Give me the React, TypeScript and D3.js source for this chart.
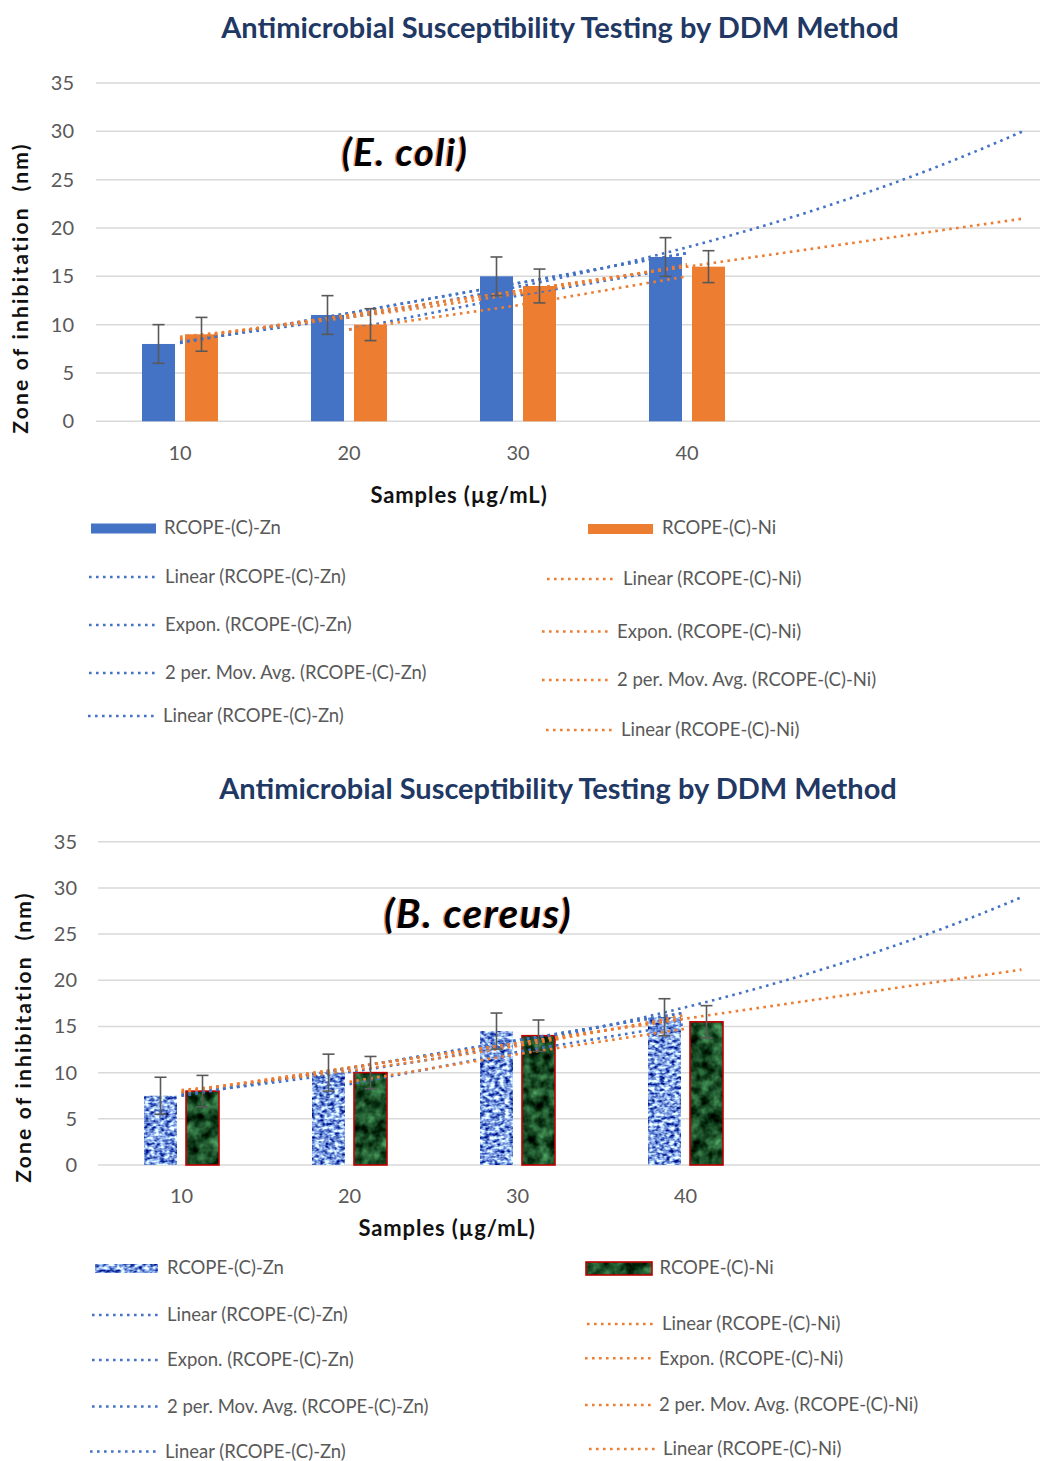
import React from "react";
import * as d3 from "d3";

// ---------- DATA ----------
const categories = ["10", "20", "30", "40"];
const yTicks = [0, 5, 10, 15, 20, 25, 30, 35];

const ecoliZn = [8, 11, 15, 17];
const ecoliZnErr = [2, 2, 2, 2];
const ecoliNi = [9, 10, 14, 16];
const ecoliNiErr = [1.75, 1.65, 1.75, 1.65];

const cereusZn = [7.5, 10, 14.5, 16];
const cereusZnErr = [2, 2, 1.95, 2];
const cereusNi = [8, 10, 14, 15.5];
const cereusNiErr = [1.7, 1.75, 1.7, 1.75];

const titleText = "Antimicrobial Susceptibility Testing by DDM Method";
const yTitleText = "Zone of inhibitation  (nm)";
const xTitleText = "Samples (µg/mL)";
const seriesZn = "RCOPE-(C)-Zn";
const seriesNi = "RCOPE-(C)-Ni";
const znLegend = ["Linear (RCOPE-(C)-Zn)", "Expon. (RCOPE-(C)-Zn)", "2 per. Mov. Avg. (RCOPE-(C)-Zn)", "Linear (RCOPE-(C)-Zn)"];
const niLegend = ["Linear (RCOPE-(C)-Ni)", "Expon. (RCOPE-(C)-Ni)", "2 per. Mov. Avg. (RCOPE-(C)-Ni)", "Linear (RCOPE-(C)-Ni)"];

const BLUE = "#4472c4";
const ORANGE = "#ed7d31";
const GRID = "#d9d9d9";
const LABEL = "#595959";
const NAVY = "#1f3864";
const FONT = "Lato, 'Open Sans', sans-serif";

// ---------- trendline helpers (computed from data, like Excel) ----------
function linFit(ys: number[]) {
  const xs = ys.map((_, i) => i + 1);
  const mx = d3.mean(xs)!, my = d3.mean(ys)!;
  const sxy = d3.sum(xs.map((x, i) => (x - mx) * (ys[i] - my)));
  const sxx = d3.sum(xs.map((x) => (x - mx) ** 2));
  const b = sxy / sxx;
  return { a: my - b * mx, b };
}
function linear(ys: number[], toX: number): [number, number][] {
  const { a, b } = linFit(ys);
  return [[1, a + b], [toX, a + b * toX]];
}
function expon(ys: number[], toX: number): [number, number][] {
  const { a, b } = linFit(ys.map(Math.log));
  return d3.range(1, toX + 0.0001, 0.05).map((x) => [x, Math.exp(a + b * x)] as [number, number]);
}
function movAvg(ys: number[]): [number, number][] {
  return ys.slice(1).map((v, i) => [i + 2, (v + ys[i]) / 2] as [number, number]);
}

type PanelCfg = {
  title: { y: number; x: number };
  gridTop: number; gridBottom: number; gridLeft: number;
  c1: number; spacing: number;
  barW: number; gap: number;
  tickX: number; tickBase: number;
  xTitle: { x: number; y: number };
  yTitle: { x: number; y: number };
  species: { text: string; x: number; y: number; size: number };
  zn: number[]; znErr: number[]; ni: number[]; niErr: number[];
  textured: boolean;
  legZn: { bar: [number, number, number, number]; text: [number, number]; rows: [number, number, number, number][] };
  legNi: { bar: [number, number, number, number]; text: [number, number]; rows: [number, number, number, number][] };
};

const dotted = { strokeWidth: 2.6, strokeDasharray: "2.6 4.4" };

function Panel({ cfg, id }: { cfg: PanelCfg; id: string }) {
  const y = d3.scaleLinear().domain([0, 35]).range([cfg.gridBottom, cfg.gridTop]);
  const x = d3.scaleLinear().domain([1, 2]).range([cfg.c1, cfg.c1 + cfg.spacing]);
  const line = d3.line<[number, number]>().x((d) => x(d[0])).y((d) => y(d[1]));

  const znFill = BLUE;
  const niFill = cfg.textured ? "#1f4d2a" : ORANGE;

  const trendZn: [number, number][][] = [
    linear(cfg.zn, 4),
    expon(cfg.zn, 6),
    movAvg(cfg.zn),
    linear(cfg.zn, 4),
  ];
  const trendNi: [number, number][][] = [
    linear(cfg.ni, 4),
    expon(cfg.ni, 4),
    movAvg(cfg.ni),
    linear(cfg.ni, 6),
  ];

  const bar = (v: number, i: number, k: number) => {
    const cx = x(i + 1);
    const left = k === 0 ? cx - cfg.gap / 2 - cfg.barW : cx + cfg.gap / 2;
    return { x: left, w: cfg.barW, y: y(v), h: y(0) - y(v), cx: left + cfg.barW / 2 };
  };

  const errBar = (v: number, e: number, cx: number, key: string) => (
    <g key={key} stroke="#595959" strokeWidth={1.6}>
      <line x1={cx} x2={cx} y1={y(v + e)} y2={y(v - e)} />
      <line x1={cx - 6} x2={cx + 6} y1={y(v + e)} y2={y(v + e)} />
      <line x1={cx - 6} x2={cx + 6} y1={y(v - e)} y2={y(v - e)} />
    </g>
  );

  return (
    <g>
      <text x={cfg.title.x} y={cfg.title.y} textAnchor="middle" fontFamily={FONT} fontWeight={700} fontSize={29} fill={NAVY}>
        {titleText}
      </text>
      {yTicks.map((t) => (
        <g key={t}>
          <line x1={cfg.gridLeft} x2={1040} y1={y(t)} y2={y(t)} stroke={GRID} strokeWidth={1.5} />
          <text x={cfg.tickX} y={y(t)} dy="0.35em" textAnchor="end" fontFamily={FONT} fontSize={20} fill={LABEL}>
            {t}
          </text>
        </g>
      ))}
      {categories.map((c, i) => (
        <text key={c} x={x(i + 1)} y={cfg.tickBase} textAnchor="middle" fontFamily={FONT} fontSize={20} fill={LABEL}>
          {c}
        </text>
      ))}
      <text x={cfg.xTitle.x} y={cfg.xTitle.y} textAnchor="middle" fontFamily={FONT} fontWeight={700} fontSize={22} letterSpacing={0.9} fill="#111">
        {xTitleText}
      </text>
      <text transform={`translate(${cfg.yTitle.x},${cfg.yTitle.y}) rotate(-90)`} textAnchor="middle" dy="0.35em" fontFamily={FONT} fontWeight={700} fontSize={21} letterSpacing={2.2} fill="#111" style={{ whiteSpace: "pre" }}>
        {yTitleText}
      </text>
      <text x={cfg.species.x - 1.5} y={cfg.species.y} textAnchor="middle" fontFamily={FONT} fontWeight={700} fontStyle="italic" fontSize={cfg.species.size} letterSpacing={1.5} fill={ORANGE} opacity={0.7}>
        {cfg.species.text}
      </text>
      <text x={cfg.species.x} y={cfg.species.y} textAnchor="middle" fontFamily={FONT} fontWeight={700} fontStyle="italic" fontSize={cfg.species.size} letterSpacing={1.5} fill="#000">
        {cfg.species.text}
      </text>

      {/* bars */}
      {cfg.zn.map((v, i) => {
        const b = bar(v, i, 0);
        return <rect key={"z" + i} x={b.x} y={b.y} width={b.w} height={b.h} fill={znFill} filter={cfg.textured ? `url(#znTex${id})` : undefined} />;
      })}
      {cfg.ni.map((v, i) => {
        const b = bar(v, i, 1);
        return (
          <g key={"n" + i}>
            <rect x={b.x} y={b.y} width={b.w} height={b.h} fill={niFill} filter={cfg.textured ? `url(#niTex${id})` : undefined} />
            {cfg.textured && <rect x={b.x} y={b.y} width={b.w} height={b.h} fill="none" stroke="#c00000" strokeWidth={1.6} />}
          </g>
        );
      })}

      {/* trendlines */}
      {trendZn.map((pts, k) => (
        <path key={"tz" + k} d={line(pts)!} fill="none" stroke={BLUE} {...dotted} />
      ))}
      {trendNi.map((pts, k) => (
        <path key={"tn" + k} d={line(pts)!} fill="none" stroke={ORANGE} {...dotted} />
      ))}

      {/* error bars */}
      {cfg.zn.map((v, i) => errBar(v, cfg.znErr[i], bar(v, i, 0).cx, "ez" + i))}
      {cfg.ni.map((v, i) => errBar(v, cfg.niErr[i], bar(v, i, 1).cx, "en" + i))}

      {/* legend */}
      {[{ leg: cfg.legZn, name: seriesZn, labels: znLegend, col: BLUE, fill: znFill, tex: `url(#znTex${id})`, stroke: "none" },
        { leg: cfg.legNi, name: seriesNi, labels: niLegend, col: ORANGE, fill: niFill, tex: `url(#niTex${id})`, stroke: cfg.textured ? "#c00000" : "none" }].map((s, si) => (
        <g key={"leg" + si}>
          <rect x={s.leg.bar[0]} y={s.leg.bar[1]} width={s.leg.bar[2]} height={s.leg.bar[3]} fill={s.fill} filter={cfg.textured ? s.tex : undefined} />
          {s.stroke !== "none" && <rect x={s.leg.bar[0]} y={s.leg.bar[1]} width={s.leg.bar[2]} height={s.leg.bar[3]} fill="none" stroke={s.stroke} strokeWidth={1.6} />}
          <text x={s.leg.text[0]} y={s.leg.text[1]} dy="0.35em" fontFamily={FONT} fontSize={18.5} fill={LABEL}>{s.name}</text>
          {s.leg.rows.map((r, k) => (
            <g key={k}>
              <line x1={r[0]} x2={r[1]} y1={r[2]} y2={r[2]} stroke={s.col} {...dotted} />
              <text x={r[3]} y={r[2]} dy="0.35em" fontFamily={FONT} fontSize={18.5} fill={LABEL}>{s.labels[k]}</text>
            </g>
          ))}
        </g>
      ))}
    </g>
  );
}

const topCfg: PanelCfg = {
  title: { x: 560, y: 38 },
  gridTop: 83, gridBottom: 421.3, gridLeft: 96,
  c1: 180, spacing: 169,
  barW: 33, gap: 10,
  tickX: 74, tickBase: 460,
  xTitle: { x: 459, y: 503 },
  yTitle: { x: 21, y: 288 },
  species: { text: "(E. coli)", x: 405, y: 166, size: 38 },
  zn: ecoliZn, znErr: ecoliZnErr, ni: ecoliNi, niErr: ecoliNiErr,
  textured: false,
  legZn: { bar: [91, 523.5, 65, 10], text: [164, 528], rows: [[89, 156, 577, 165], [89, 156, 625, 165], [89, 156, 673, 165], [88, 154, 716, 163]] },
  legNi: { bar: [588, 524, 65, 10], text: [662, 528], rows: [[547, 614, 579, 623], [542, 608, 631.5, 617], [542, 608, 680, 617], [546, 612, 730, 621]] },
};

const botCfg: PanelCfg = {
  title: { x: 558, y: 799 },
  gridTop: 841.7, gridBottom: 1165, gridLeft: 98,
  c1: 181.5, spacing: 168,
  barW: 33, gap: 9,
  tickX: 77, tickBase: 1203,
  xTitle: { x: 447, y: 1236 },
  yTitle: { x: 24, y: 1037 },
  species: { text: "(B. cereus)", x: 478, y: 928, size: 40 },
  zn: cereusZn, znErr: cereusZnErr, ni: cereusNi, niErr: cereusNiErr,
  textured: true,
  legZn: { bar: [95, 1264, 63, 9], text: [167, 1268], rows: [[92, 158, 1315, 167], [92, 158, 1360, 167], [92, 158, 1406.5, 167], [90, 156, 1451.5, 165]] },
  legNi: { bar: [586, 1262, 66, 13], text: [659.5, 1268], rows: [[587, 653, 1324, 662], [585, 651, 1358.3, 659], [585, 651, 1405, 659], [589, 655, 1449, 663]] },
};

function Filters({ id }: { id: string }) {
  return (
    <defs>
      <filter id={`znTex${id}`} x="0" y="0" width="100%" height="100%" filterUnits="objectBoundingBox" colorInterpolationFilters="sRGB">
        <feTurbulence type="fractalNoise" baseFrequency="0.2 0.3" numOctaves={2} seed={4} result="noise" />
        <feColorMatrix in="noise" type="matrix" values="2.0 0 0 0 -0.5  2.0 0 0 0 -0.38  1.2 0 0 0 0.28  0 0 0 0 1" result="col" />
        <feComposite in="col" in2="SourceGraphic" operator="in" />
      </filter>
      <filter id={`niTex${id}`} x="0" y="0" width="100%" height="100%" filterUnits="objectBoundingBox" colorInterpolationFilters="sRGB">
        <feTurbulence type="fractalNoise" baseFrequency="0.08" numOctaves={3} seed={9} result="noise" />
        <feColorMatrix in="noise" type="matrix" values="0.6 0 0 0 -0.2  1.0 0 0 0 -0.2  0.7 0 0 0 -0.2  0 0 0 0 1" result="col" />
        <feComposite in="col" in2="SourceGraphic" operator="in" />
      </filter>
    </defs>
  );
}

export default function App() {
  return (
    <svg width={1040} height={1461} style={{ position: "absolute", left: 0, top: 0, background: "#fff" }}>
      <rect width={1040} height={1461} fill="#fff" />
      <Filters id="a" />
      <Panel cfg={topCfg} id="a" />
      <Panel cfg={botCfg} id="a" />
    </svg>
  );
}
